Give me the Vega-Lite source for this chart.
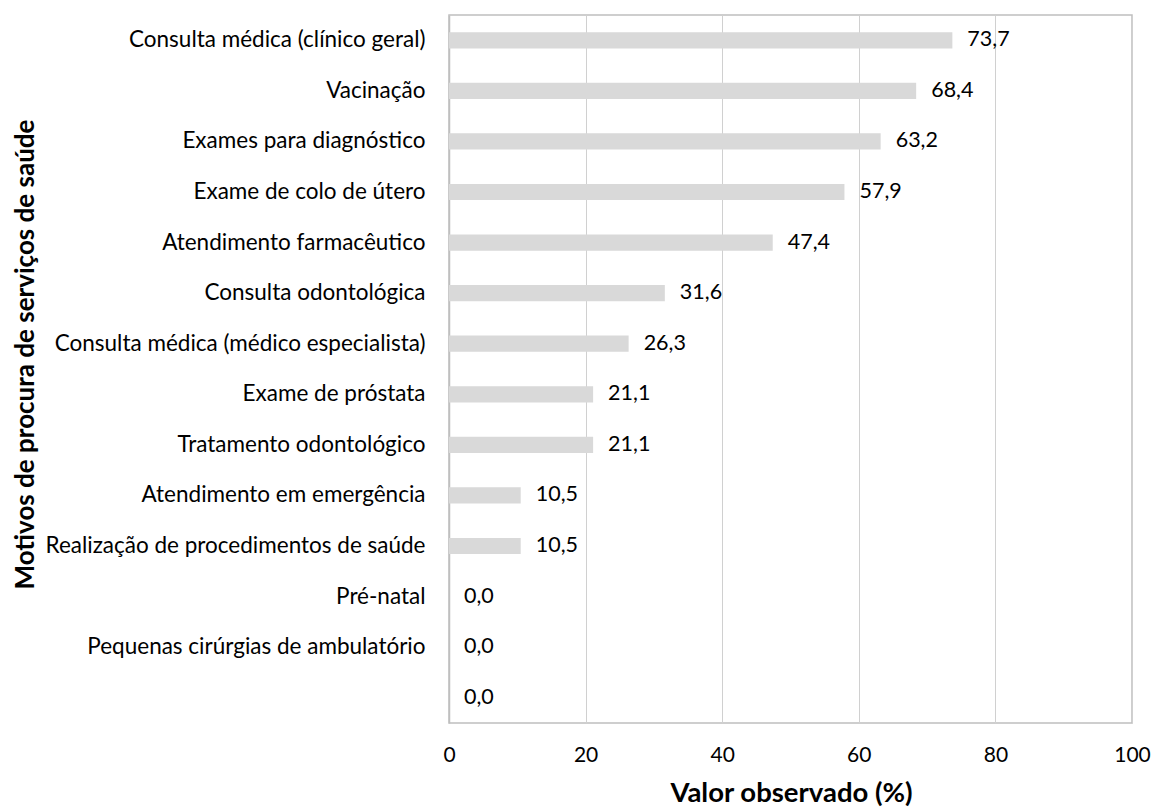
{
  "$schema": "https://vega.github.io/schema/vega-lite/v6.json",
  "width": 683,
  "height": 708,
  "autosize": "none",
  "padding": {"left": 449, "top": 15, "right": 21, "bottom": 87},
  "background": "white",
  "config": {
    "font": "Lato",
    "view": {"stroke": "#bfbfbf", "strokeWidth": 1.5},
    "locale": {"number": {"decimal": ",", "thousands": ".", "grouping": [3], "currency": ["", ""]}}
  },
  "data": {
    "values": [
      {"motivo": "Consulta médica (clínico geral)", "valor": 73.7},
      {"motivo": "Vacinação", "valor": 68.4},
      {"motivo": "Exames para diagnóstico", "valor": 63.2},
      {"motivo": "Exame de colo de útero", "valor": 57.9},
      {"motivo": "Atendimento farmacêutico", "valor": 47.4},
      {"motivo": "Consulta odontológica", "valor": 31.6},
      {"motivo": "Consulta médica (médico especialista)", "valor": 26.3},
      {"motivo": "Exame de próstata", "valor": 21.1},
      {"motivo": "Tratamento odontológico", "valor": 21.1},
      {"motivo": "Atendimento em emergência", "valor": 10.5},
      {"motivo": "Realização de procedimentos de saúde", "valor": 10.5},
      {"motivo": "Pré-natal", "valor": 0.0},
      {"motivo": "Pequenas cirúrgias de ambulatório", "valor": 0.0},
      {"motivo": " ", "valor": 0.0}
    ]
  },
  "encoding": {
    "y": {
      "field": "motivo",
      "type": "nominal",
      "sort": null,
      "scale": {"paddingInner": 0.68, "paddingOuter": 0.34},
      "axis": {
        "title": "Motivos de procura de serviços de saúde",
        "titleFont": "Lato",
        "titleFontSize": 26,
        "titleFontWeight": "bold",
        "titleColor": "#000000",
        "titleX": -424,
        "titleY": 339,
        "titleAngle": -90,
        "titleBaseline": "middle",
        "titleAlign": "center",
        "labelFont": "Lato",
        "labelFontSize": 22.5,
        "labelColor": "#000000",
        "labelPadding": 24,
        "labelLimit": 500,
        "ticks": false,
        "domainColor": "#bfbfbf",
        "domainWidth": 1.5,
        "grid": false
      }
    },
    "x": {
      "field": "valor",
      "type": "quantitative",
      "scale": {"domain": [0, 100], "nice": false},
      "axis": {
        "title": "Valor observado (%)",
        "titleFont": "Lato",
        "titleFontSize": 27.5,
        "titleFontWeight": "bold",
        "titleColor": "#000000",
        "titleX": 342,
        "titleY": 70,
        "titleBaseline": "middle",
        "titleAlign": "center",
        "values": [0, 20, 40, 60, 80, 100],
        "format": "d",
        "labelFont": "Lato",
        "labelFontSize": 21,
        "labelColor": "#000000",
        "labelPadding": 21,
        "labelFlush": false,
        "ticks": false,
        "domain": false,
        "grid": true,
        "gridColor": "#d0d0d0",
        "gridWidth": 1
      }
    }
  },
  "layer": [
    {"mark": {"type": "bar", "color": "#d9d9d9"}},
    {
      "mark": {"type": "text", "align": "left", "baseline": "middle", "dx": 15, "font": "Lato", "fontSize": 21.5, "color": "#000000"},
      "encoding": {"text": {"field": "valor", "type": "quantitative", "format": ".1f"}}
    }
  ]
}
